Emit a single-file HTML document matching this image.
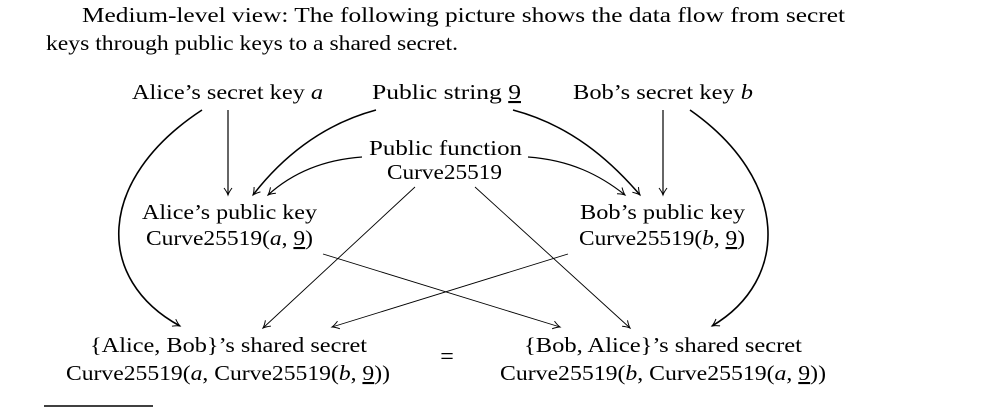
<!DOCTYPE html>
<html><head><meta charset="utf-8"><style>
html,body{margin:0;padding:0;background:#fff;}
svg{display:block;}
text{font-family:"Liberation Serif",serif;font-size:21px;fill:#000;}
.i{font-style:italic;}
</style></head><body>
<svg width="988" height="415" viewBox="0 0 988 415" xmlns="http://www.w3.org/2000/svg">
<defs>
<marker id="a" markerWidth="10" markerHeight="10" refX="8" refY="5" orient="auto" markerUnits="userSpaceOnUse">
<path d="M1,1 Q5,4 8,5 Q5,6 1,9" fill="none" stroke="#000" stroke-width="1"/>
</marker>
</defs>
<text x="82" y="22" textLength="763" lengthAdjust="spacingAndGlyphs">Medium-level view: The following picture shows the data flow from secret</text>
<text x="46" y="50" textLength="412" lengthAdjust="spacingAndGlyphs">keys through public keys to a shared secret.</text>

<text x="132" y="99" textLength="191" lengthAdjust="spacingAndGlyphs">Alice’s secret key <tspan class="i">a</tspan></text>
<text x="372" y="99" textLength="149" lengthAdjust="spacingAndGlyphs">Public string <tspan text-decoration="underline">9</tspan></text>
<text x="573" y="99" textLength="180" lengthAdjust="spacingAndGlyphs">Bob’s secret key <tspan class="i">b</tspan></text>
<text x="369" y="155" textLength="153" lengthAdjust="spacingAndGlyphs">Public function</text>
<text x="387" y="179" textLength="115" lengthAdjust="spacingAndGlyphs">Curve25519</text>
<text x="142" y="219" textLength="175" lengthAdjust="spacingAndGlyphs">Alice’s public key</text>
<text x="146" y="245" textLength="167" lengthAdjust="spacingAndGlyphs">Curve25519(<tspan class="i">a</tspan>, <tspan text-decoration="underline">9</tspan>)</text>
<text x="580" y="219" textLength="165" lengthAdjust="spacingAndGlyphs">Bob’s public key</text>
<text x="579" y="245" textLength="166" lengthAdjust="spacingAndGlyphs">Curve25519(<tspan class="i">b</tspan>, <tspan text-decoration="underline">9</tspan>)</text>
<text x="90" y="352" textLength="277" lengthAdjust="spacingAndGlyphs">{Alice, Bob}’s shared secret</text>
<text x="66" y="380" textLength="324" lengthAdjust="spacingAndGlyphs">Curve25519(<tspan class="i">a</tspan>, Curve25519(<tspan class="i">b</tspan>, <tspan text-decoration="underline">9</tspan>))</text>
<text x="524" y="352" textLength="278" lengthAdjust="spacingAndGlyphs">{Bob, Alice}’s shared secret</text>
<text x="500" y="380" textLength="326" lengthAdjust="spacingAndGlyphs">Curve25519(<tspan class="i">b</tspan>, Curve25519(<tspan class="i">a</tspan>, <tspan text-decoration="underline">9</tspan>))</text>
<text x="447" y="364" text-anchor="middle" style="font-size:24px">=</text>
<line x1="44" y1="406" x2="153" y2="406" stroke="#000" stroke-width="1.5"/>

<g fill="none" stroke="#000" stroke-width="1.2" marker-end="url(#a)">
<path d="M228,110 L228,195"/>
<path d="M663,110 L663,195"/>
<path d="M202,110 C95,180 95,280 180,326" stroke-width="1.6"/>
<path d="M690,110 C790,180 790,280 712,326" stroke-width="1.6"/>
<path d="M376,110 C320,125 280,160 253,195" stroke-width="1.5"/>
<path d="M513,110 C570,125 610,160 640,195" stroke-width="1.5"/>
<path d="M362,157 C320,160 290,175 268,195"/>
<path d="M528,157 C570,160 600,175 625,195"/>
<path d="M415,187 L263,328" stroke-width="0.9"/>
<path d="M475,187 L630,328" stroke-width="0.9"/>
<path d="M323,254 L560,327" stroke-width="0.9"/>
<path d="M568,254 L332,327" stroke-width="0.9"/>
</g>
</svg>
</body></html>
